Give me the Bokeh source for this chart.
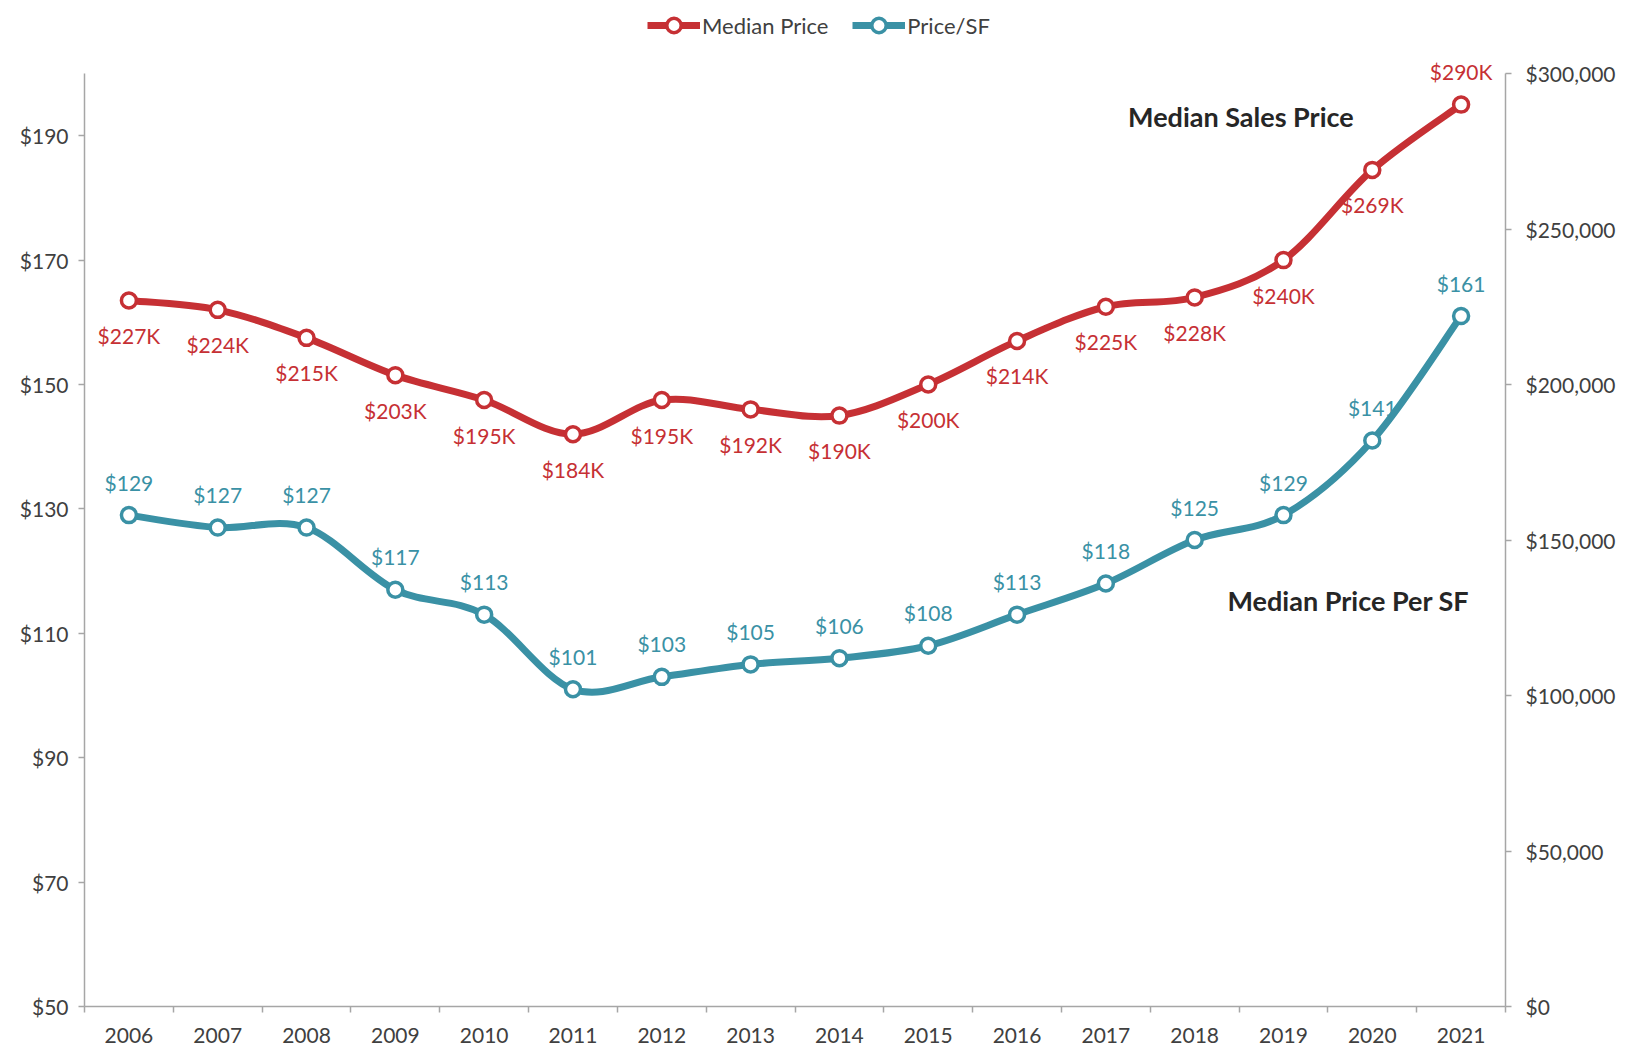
from bokeh.plotting import figure
from bokeh.models import (Range1d, LinearAxis, FixedTicker, Label, Legend, LegendItem,
                          ColumnDataSource, NumeralTickFormatter)
from bokeh.embed import file_html
from bokeh.resources import INLINE
from bokeh.core.properties import value

years = ["2006", "2007", "2008", "2009", "2010", "2011", "2012", "2013",
         "2014", "2015", "2016", "2017", "2018", "2019", "2020", "2021"]
median_price_k = [227, 224, 215, 203, 195, 184, 195, 192, 190, 200, 214, 225, 228, 240, 269, 290]
price_sf = [129, 127, 127, 117, 113, 101, 103, 105, 106, 108, 113, 118, 125, 129, 141, 161]
left_ticks = [50, 70, 90, 110, 130, 150, 170, 190]
right_ticks = [0, 50000, 100000, 150000, 200000, 250000, 300000]
left_bounds = (50, 200)
right_bounds = (0, 300000)

RED = "#C63034"
TEAL = "#3A91A5"
AX = "#A6A6A6"
TXT = "#404040"
FONT = "Lato"

n = len(years)
xs = [i + 0.5 for i in range(n)]
median_price = [v * 1000 for v in median_price_k]

AXIS_PX = 933          # pixel length of the drawn value axes
FRAME_H = 1006         # frame extends above the axes to hold legend and top label
ext = FRAME_H / AXIS_PX

p = figure(frame_width=1421, frame_height=FRAME_H, output_backend="svg", toolbar_location=None,
           x_range=Range1d(0, n),
           y_range=Range1d(left_bounds[0], left_bounds[0] + (left_bounds[1] - left_bounds[0]) * ext),
           min_border_left=84, min_border_right=114, min_border_top=0, min_border_bottom=40)
p.width = 84 + 1421 + 114
p.height = FRAME_H + 40
p.outline_line_color = None
p.xgrid.visible = False
p.ygrid.visible = False
p.extra_y_ranges = {"right": Range1d(right_bounds[0], right_bounds[1] * ext)}

def style_axis(ax):
    ax.axis_line_color = AX
    ax.axis_line_width = 1.5
    ax.major_tick_line_color = AX
    ax.major_tick_line_width = 1.5
    ax.minor_tick_line_color = AX
    ax.minor_tick_line_width = 1.5
    ax.major_tick_in = 0
    ax.major_tick_out = 6
    ax.minor_tick_in = 0
    ax.minor_tick_out = 0
    ax.major_label_text_font = FONT
    ax.major_label_text_font_size = "21px"
    ax.major_label_text_color = TXT

# x axis
xa = p.xaxis[0]
style_axis(xa)
xa.ticker = FixedTicker(ticks=xs, minor_ticks=list(range(n + 1)))
xa.major_label_overrides = {x: y for x, y in zip(xs, years)}
xa.major_tick_out = 0
xa.minor_tick_out = 6
xa.major_label_standoff = 15

# left axis
ya = p.yaxis[0]
style_axis(ya)
ya.ticker = FixedTicker(ticks=left_ticks)
ya.formatter = NumeralTickFormatter(format="$0")
ya.major_label_standoff = 10
ya.bounds = left_bounds

# right axis
ra = LinearAxis(y_range_name="right")
style_axis(ra)
ra.ticker = FixedTicker(ticks=right_ticks)
ra.formatter = NumeralTickFormatter(format="$0,0")
ra.major_label_standoff = 14
ra.bounds = right_bounds
p.add_layout(ra, "right")

def bezier_source(xv, yv):
    x0, y0, x1, y1, cx0, cy0, cx1, cy1 = [], [], [], [], [], [], [], []
    m = len(xv)
    for i in range(m - 1):
        pa = i - 1 if i > 0 else i
        pd = i + 2 if i + 2 < m else i + 1
        x0.append(xv[i]); y0.append(yv[i])
        x1.append(xv[i + 1]); y1.append(yv[i + 1])
        cx0.append(xv[i] + (xv[i + 1] - xv[pa]) / 6.0)
        cy0.append(yv[i] + (yv[i + 1] - yv[pa]) / 6.0)
        cx1.append(xv[i + 1] - (xv[pd] - xv[i]) / 6.0)
        cy1.append(yv[i + 1] - (yv[pd] - yv[i]) / 6.0)
    return ColumnDataSource(dict(x0=x0, y0=y0, x1=x1, y1=y1, cx0=cx0, cy0=cy0, cx1=cx1, cy1=cy1))

# Median price (right axis)
r_red_line = p.bezier(x0="x0", y0="y0", x1="x1", y1="y1", cx0="cx0", cy0="cy0", cx1="cx1", cy1="cy1",
                      source=bezier_source(xs, median_price), line_color=RED, line_width=7,
                      y_range_name="right")
r_red_pts = p.scatter(xs, median_price, size=15, fill_color="white", line_color=RED,
                      line_width=3.5, y_range_name="right")

# Price/SF (left axis)
r_teal_line = p.bezier(x0="x0", y0="y0", x1="x1", y1="y1", cx0="cx0", cy0="cy0", cx1="cx1", cy1="cy1",
                       source=bezier_source(xs, price_sf), line_color=TEAL, line_width=7)
r_teal_pts = p.scatter(xs, price_sf, size=15, fill_color="white", line_color=TEAL, line_width=3.5)

# data labels
red_below = [i for i in range(n) if i != n - 1]
p.text([xs[i] for i in red_below], [median_price[i] for i in red_below],
       text=["$%dK" % median_price_k[i] for i in red_below], y_range_name="right",
       text_font=value(FONT), text_font_size="21px", text_color=RED,
       text_align="center", text_baseline="middle", y_offset=35)
p.text([xs[n - 1]], [median_price[n - 1]], text=["$%dK" % median_price_k[n - 1]],
       y_range_name="right", text_font=value(FONT), text_font_size="21px", text_color=RED,
       text_align="center", text_baseline="middle", y_offset=-33)
p.text(xs, price_sf, text=["$%d" % v for v in price_sf],
       text_font=value(FONT), text_font_size="21px", text_color=TEAL,
       text_align="center", text_baseline="middle", y_offset=-33)

# annotations
p.add_layout(Label(x=11.75, y=193.1, text="Median Sales Price", text_font=FONT,
                   text_font_size="27px", text_font_style="bold", text_color="#262626",
                   text_baseline="middle"))
p.add_layout(Label(x=12.87, y=115.3, text="Median Price Per SF", text_font=FONT,
                   text_font_size="27px", text_font_style="bold", text_color="#262626",
                   text_baseline="middle"))

legend = Legend(items=[LegendItem(label="Median Price", renderers=[r_red_line, r_red_pts]),
                       LegendItem(label="Price/SF", renderers=[r_teal_line, r_teal_pts])],
                orientation="horizontal", location=(563, FRAME_H - 43),
                label_text_font=FONT, label_text_font_size="22px", label_text_color=TXT,
                glyph_width=53, glyph_height=36, label_standoff=2, spacing=24,
                padding=0, margin=0, border_line_color=None, background_fill_alpha=0)
p.add_layout(legend, "center")

open("out.html", "w").write(file_html(p, INLINE))
